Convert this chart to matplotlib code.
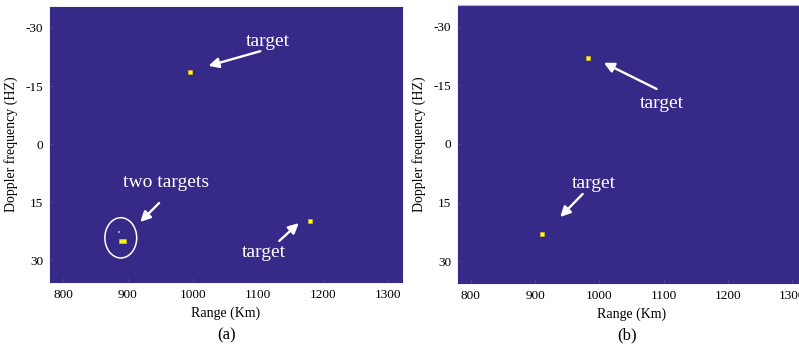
import matplotlib.pyplot as plt
from matplotlib.patches import Ellipse

plt.rcParams['font.family'] = ['Liberation Serif', 'DejaVu Serif']
plt.rcParams['axes.unicode_minus'] = False

# detections: range (km), doppler (Hz)
a_range = [995, 1180, 889, 894]
a_doppler = [-18.7, 19.9, 25.0, 25.0]
a_faint_range = [886]
a_faint_doppler = [22.6]

b_range = [982, 911]
b_doppler = [-21.9, 23.1]

x_ticks = [800, 900, 1000, 1100, 1200, 1300]
y_ticks = [-30, -15, 0, 15, 30]

bg = '#352a87'
yellow = '#f9fb0e'

fig = plt.figure(figsize=(7.99, 3.47), dpi=100)
ax_a = fig.add_axes([50 / 799, 65 / 347, 352 / 799, 275 / 347])
ax_b = fig.add_axes([458 / 799, 64 / 347, 347 / 799, 278 / 347])


def style_axes(ax, xlim, ylim):
	ax.set_facecolor(bg)
	ax.set_xlim(xlim)
	ax.set_ylim(ylim)
	ax.set_xticks(x_ticks)
	ax.set_yticks(y_ticks)
	ax.tick_params(direction='in', length=3, color='#4a3f9a', labelsize=9.5, pad=5)
	for s in ax.spines.values():
		s.set_color(bg)
	ax.spines['top'].set_color('#b8b8c0')
	ax.set_xlabel("Range (Km)", fontsize=10, labelpad=4)
	ax.set_ylabel("Doppler frequency (HZ)", fontsize=10, labelpad=5)


style_axes(ax_a, (780, 1322), (35.6, -35.4))
style_axes(ax_b, (780, 1320), (35.6, -35.6))
ax_a.spines['top'].set_color(bg)

ax_a.scatter(a_range, a_doppler, marker='s', s=11, color=yellow, edgecolors='#e8c020', linewidths=0.4, zorder=3)
ax_a.scatter(a_faint_range, a_faint_doppler, marker='s', s=3, color='#a8a0b0', linewidths=0, zorder=3)
ax_b.scatter(b_range, b_doppler, marker='s', s=8, color=yellow, edgecolors='#e8c020', linewidths=0.4, zorder=3)

ax_a.add_patch(Ellipse((889, 24.2), 49, 10.4, fill=False, edgecolor='white', lw=1.1, zorder=4))

arrow = dict(arrowstyle='-|>,head_length=0.6,head_width=0.3', color='white', lw=1.7, shrinkA=0, shrinkB=0)
txt = dict(color='white', fontsize=14, ha='center', va='center')

ax_a.annotate("", xy=(1024, -20.2), xytext=(1104, -24), arrowprops=arrow)
ax_a.text(1115, -26.4, "target", **txt)
ax_a.annotate("", xy=(919, 20.1), xytext=(948, 15.2), arrowprops=arrow)
ax_a.text(959, 10.0, "two targets", **txt)
ax_a.annotate("", xy=(1163, 20.4), xytext=(1133, 25), arrowprops=arrow)
ax_a.text(1110, 27.9, "target", **txt)

ax_b.annotate("", xy=(1007, -20.8), xytext=(1089, -14.1), arrowprops=arrow)
ax_b.text(1097, -10.3, "target", **txt)
ax_b.annotate("", xy=(939, 18.7), xytext=(974, 12.8), arrowprops=arrow)
ax_b.text(992, 10.0, "target", **txt)

fig.text(227 / 799, 1 - 335 / 347, "(a)", fontsize=12, ha='center', va='center')
fig.text(627 / 799, 1 - 335 / 347, "(b)", fontsize=12, ha='center', va='center')

fig.savefig("out.png", dpi=100)
